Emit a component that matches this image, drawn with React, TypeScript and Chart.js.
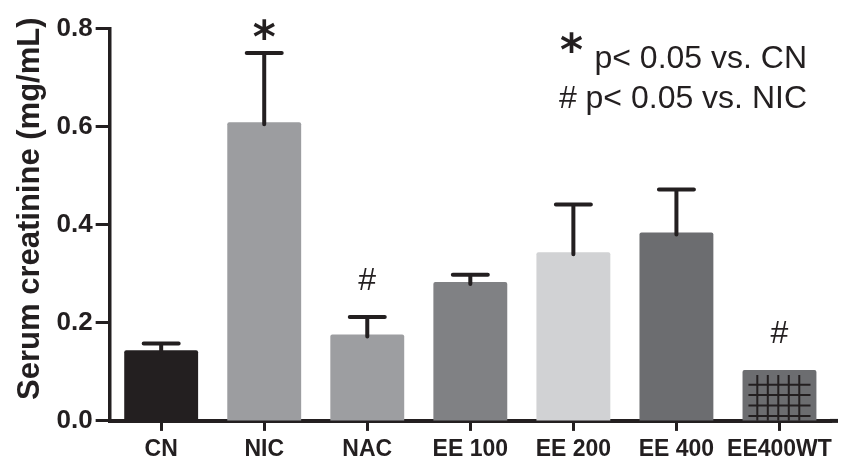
import React, { useEffect, useRef } from "react";
import { Chart, registerables } from "chart.js";

Chart.register(...registerables);

const categories = ["CN", "NIC", "NAC", "EE 100", "EE 200", "EE 400", "EE400WT"];
const means = [0.144, 0.609, 0.176, 0.283, 0.344, 0.384, 0.104];
const errors = [0.014, 0.141, 0.036, 0.015, 0.097, 0.088, 0];
const marks = ["", "*", "#", "", "", "", "#"];
const barColors = ["#231f20", "#9c9da0", "#9d9ea1", "#808184", "#d1d2d4", "#6c6d70", "#6c6d70"];
const hatched = [false, false, false, false, false, false, true];
const yTicks = [0, 0.2, 0.4, 0.6, 0.8];
const legendStar = "*";
const legendLine1 = "p< 0.05 vs. CN";
const legendLine2 = "# p< 0.05 vs. NIC";
const yTitle = "Serum creatinine (mg/mL)";

const FAMILY = "'Liberation Sans', Arial, Helvetica, sans-serif";
const STAR_FONT = "bold 44px 'DejaVu Sans', sans-serif";
const INK = "#231f20";

export default function App() {
  const ref = useRef<HTMLCanvasElement | null>(null);

  useEffect(() => {
    const canvas = ref.current;
    if (!canvas) return;

    const overlay = {
      id: "overlay",
      afterDatasetsDraw(chart: any) {
        const ctx: CanvasRenderingContext2D = chart.ctx;
        const ys = chart.scales.y;
        const area = chart.chartArea;
        const meta = chart.getDatasetMeta(0);
        ctx.save();

        // hatch pattern on hatched bars
        meta.data.forEach((bar: any, i: number) => {
          if (!hatched[i]) return;
          const p = bar.getProps(["x", "y", "width", "base"], true);
          const left = p.x - p.width / 2;
          ctx.strokeStyle = INK;
          ctx.lineWidth = 2;
          ctx.lineCap = "butt";
          ctx.beginPath();
          for (let k = 0; k < 5; k++) {
            const vx = left + p.width * (0.2 + k * 0.142);
            ctx.moveTo(vx, p.y + 5);
            ctx.lineTo(vx, p.base);
          }
          for (let k = 0; k < 4; k++) {
            const hy = p.base - 4.5 - k * 10.4;
            ctx.moveTo(left + p.width * 0.08, hy);
            ctx.lineTo(left + p.width * 0.92, hy);
          }
          ctx.stroke();
        });

        // error bars
        ctx.strokeStyle = INK;
        ctx.lineWidth = 4;
        ctx.lineCap = "round";
        meta.data.forEach((bar: any, i: number) => {
          if (!errors[i]) return;
          const x = bar.x;
          const y0 = ys.getPixelForValue(means[i]);
          const y1 = ys.getPixelForValue(means[i] + errors[i]);
          ctx.beginPath();
          ctx.moveTo(x, y0 + 2);
          ctx.lineTo(x, y1);
          ctx.moveTo(x - 17.5, y1);
          ctx.lineTo(x + 17.5, y1);
          ctx.stroke();
        });

        // significance marks
        ctx.fillStyle = INK;
        ctx.textAlign = "center";
        ctx.textBaseline = "alphabetic";
        meta.data.forEach((bar: any, i: number) => {
          const m = marks[i];
          if (!m) return;
          const topPx = ys.getPixelForValue(means[i] + errors[i]);
          ctx.font = m === "*" ? STAR_FONT : `32px ${FAMILY}`;
          const gap = m === "*" ? 13 : 27;
          const tm = ctx.measureText(m);
          const bottom = topPx - gap;
          ctx.fillText(m, bar.x, bottom - tm.actualBoundingBoxDescent);
        });

        // x axis line extension to the right
        ctx.strokeStyle = INK;
        ctx.lineWidth = 4;
        ctx.lineCap = "butt";
        ctx.beginPath();
        ctx.moveTo(area.right - 1, area.bottom);
        ctx.lineTo(chart.width - 3, area.bottom);
        ctx.stroke();

        // legend text (top right)
        const rightX = area.right - 24;
        ctx.textAlign = "right";
        ctx.font = `32px ${FAMILY}`;
        ctx.fillText(legendLine1, rightX, area.top + 39);
        const w1 = ctx.measureText(legendLine1).width;
        ctx.fillText(legendLine2, rightX, area.top + 79);
        ctx.font = STAR_FONT;
        const sm = ctx.measureText(legendStar);
        ctx.textAlign = "center";
        ctx.fillText(legendStar, rightX - w1 - 23, area.top + 24 - sm.actualBoundingBoxDescent);

        // y axis title
        ctx.save();
        ctx.font = `bold 31px ${FAMILY}`;
        ctx.textAlign = "center";
        ctx.textBaseline = "middle";
        ctx.translate(30, (area.top + area.bottom) / 2 - 16);
        ctx.rotate(-Math.PI / 2);
        ctx.fillText(yTitle, 0, 0);
        ctx.restore();

        ctx.restore();
      },
    };

    const chart = new Chart(canvas, {
      type: "bar",
      data: {
        labels: categories,
        datasets: [
          {
            data: means,
            backgroundColor: barColors,
            borderWidth: 0,
            borderRadius: 2,
            borderSkipped: "bottom",
            categoryPercentage: 1,
            barPercentage: 0.717,
          },
        ],
      },
      options: {
        responsive: false,
        animation: false,
        layout: { padding: { left: 53.5, right: 10, top: 28.5, bottom: 0 } },
        plugins: {
          legend: { display: false },
          tooltip: { enabled: false },
          title: { display: false },
        },
        scales: {
          x: {
            type: "category",
            offset: true,
            afterFit: (scale: any) => {
              scale.height -= 12.5;
            },
            grid: {
              display: true,
              drawOnChartArea: false,
              drawTicks: true,
              offset: false,
              tickLength: 10,
              tickWidth: 3,
              tickColor: INK,
            },
            border: { display: true, color: INK, width: 4 },
            ticks: {
              color: INK,
              padding: 5,
              maxRotation: 0,
              autoSkip: false,
              font: { family: FAMILY, size: 23, weight: "bold" },
            },
          },
          y: {
            type: "linear",
            min: 0,
            max: 0.8,
            afterBuildTicks: (scale: any) => {
              scale.ticks = yTicks.map((v) => ({ value: v }));
            },
            grid: {
              display: true,
              drawOnChartArea: false,
              drawTicks: true,
              tickLength: 14,
              tickWidth: 3,
              tickColor: INK,
            },
            border: { display: true, color: INK, width: 3.5 },
            ticks: {
              color: INK,
              padding: 3,
              font: { family: FAMILY, size: 26, weight: "bold" },
              callback: (v: any) => Number(v).toFixed(1),
            },
            title: { display: false },
          },
        },
      },
      plugins: [overlay],
    });

    return () => {
      chart.destroy();
    };
  }, []);

  return (
    <div style={{ position: "fixed", left: 0, top: 0, width: 841, height: 456, background: "#ffffff" }}>
      <canvas ref={ref} width={841} height={456} style={{ display: "block" }} />
    </div>
  );
}
